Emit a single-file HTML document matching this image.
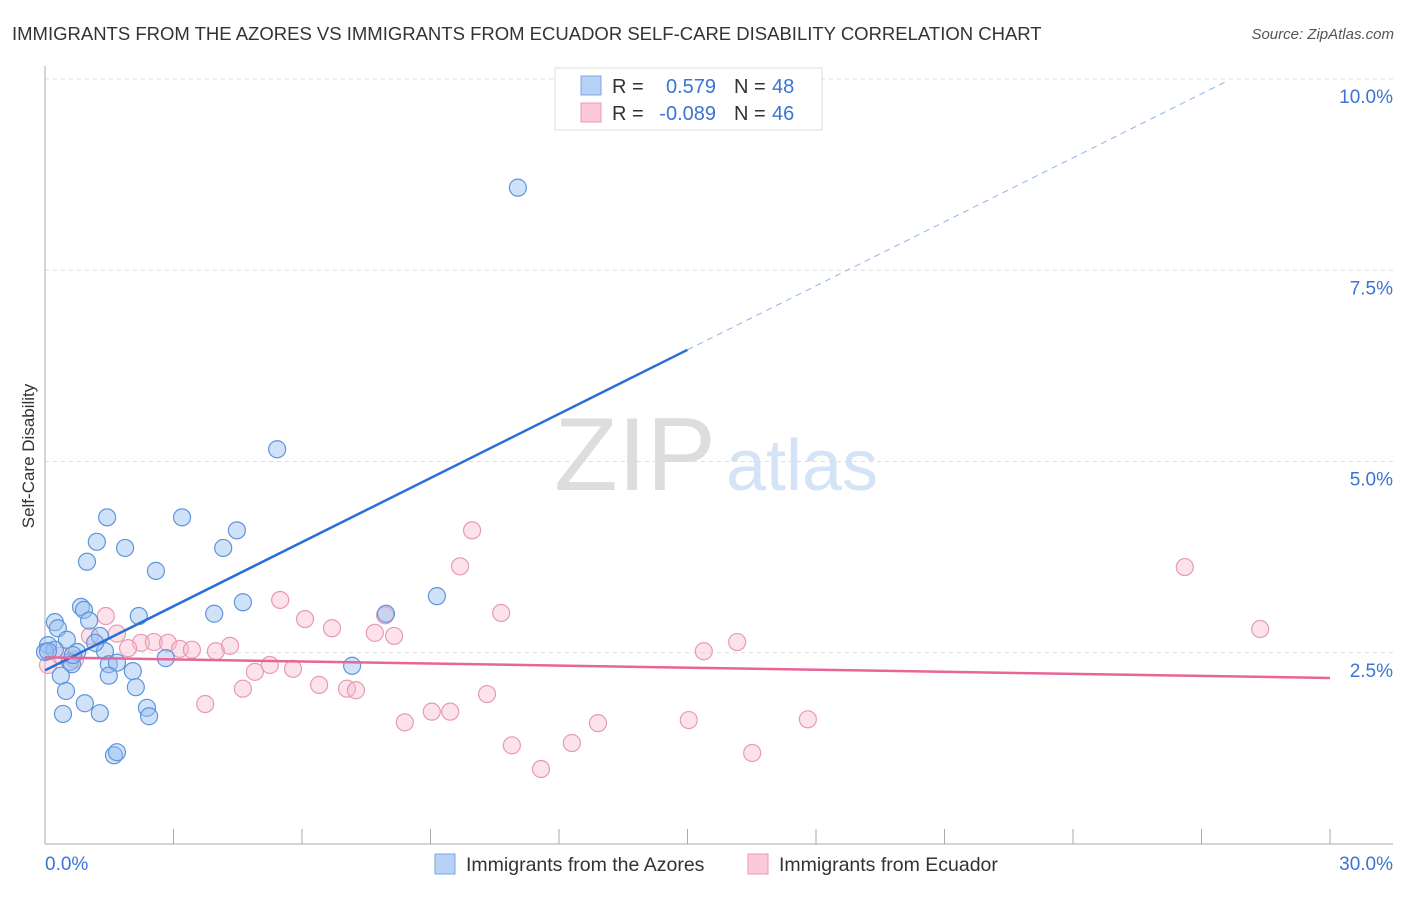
<!DOCTYPE html>
<html><head><meta charset="utf-8"><style>
body{margin:0;background:#fff;font-family:"Liberation Sans",sans-serif}
svg text{font-family:"Liberation Sans",sans-serif}
</style></head><body>
<svg id="chart" width="1406" height="892" xmlns="http://www.w3.org/2000/svg">
<text x="12" y="40" font-size="18.5" fill="#333">IMMIGRANTS FROM THE AZORES VS IMMIGRANTS FROM ECUADOR SELF-CARE DISABILITY CORRELATION CHART</text>
<text x="1394" y="39" font-size="15" fill="#555" font-style="italic" text-anchor="end">Source: ZipAtlas.com</text>
<text x="635" y="490" font-size="104" fill="#ddd" font-family="Liberation Serif" text-anchor="middle">ZIP</text>
<text x="802" y="490" font-size="72" fill="#d4e3f5" text-anchor="middle">atlas</text>
<g id="grid"></g><g id="axes"></g><g id="marks"></g>
<text transform="translate(34,456) rotate(-90)" font-size="17" fill="#333" text-anchor="middle">Self-Care Disability</text>
<g>
<rect x="555" y="68" width="267" height="62" fill="#fff" stroke="#ddd"/>
<rect x="581" y="76" width="20" height="19" fill="#b7d2f5" stroke="#7aa7e6"/>
<rect x="581" y="103" width="20" height="19" fill="#fcc9d8" stroke="#ee9ab4"/>
<text x="612" y="93" font-size="20" fill="#333">R = </text><text x="716" y="93" font-size="20" fill="#3a74d4" text-anchor="end">0.579</text>
<text x="734" y="93" font-size="20" fill="#333">N = </text><text x="772" y="93" font-size="20" fill="#3a74d4">48</text>
<text x="612" y="120" font-size="20" fill="#333">R = </text><text x="716" y="120" font-size="20" fill="#3a74d4" text-anchor="end">-0.089</text>
<text x="734" y="120" font-size="20" fill="#333">N = </text><text x="772" y="120" font-size="20" fill="#3a74d4">46</text>
</g>
<g>
<rect x="435" y="854" width="20" height="20" fill="#b7d2f5" stroke="#7aa7e6"/>
<text x="466" y="871" font-size="19.5" fill="#333">Immigrants from the Azores</text>
<rect x="748" y="854" width="20" height="20" fill="#fcc9d8" stroke="#ee9ab4"/>
<text x="779" y="871" font-size="19.5" fill="#333">Immigrants from Ecuador</text>
</g>
</svg>
<script>
const yTicks=[2.5,5.0,7.5,10.0];
const yTickLabels=["2.5%","5.0%","7.5%","10.0%"];
const xTickLabels=["0.0%","30.0%"];
const blueX=[11.04,5.42,1.45,3.20,4.48,1.21,1.87,4.16,0.98,2.59,4.62,9.15,3.95,2.19,7.96,0.84,0.91,0.23,0.30,1.03,1.28,0.51,0.07,0.23,0.0,0.75,1.40,0.58,0.63,1.49,1.68,2.05,2.82,7.17,0.37,1.49,2.12,0.49,0.93,1.28,0.42,2.38,2.43,1.61,1.68,0.07,1.17,0.65];
const blueY=[8.58,5.16,4.27,4.27,4.10,3.95,3.87,3.87,3.69,3.57,3.16,3.24,3.01,2.98,3.01,3.10,3.06,2.90,2.82,2.92,2.72,2.67,2.60,2.54,2.51,2.51,2.52,2.38,2.35,2.35,2.37,2.26,2.43,2.33,2.20,2.20,2.05,2.00,1.84,1.71,1.70,1.78,1.67,1.16,1.20,2.52,2.63,2.47];
const pinkX=[9.97,9.69,26.61,28.37,1.42,5.49,6.07,6.70,7.94,8.15,7.70,10.65,16.16,15.38,1.05,1.68,2.24,2.54,2.87,3.15,3.43,1.94,3.99,4.32,5.25,4.90,5.79,4.62,6.40,7.05,7.26,3.74,10.32,9.03,9.46,8.40,12.91,15.03,17.81,10.90,12.30,16.51,11.58,0.35,0.70,0.07];
const pinkY=[4.10,3.63,3.62,2.81,2.98,3.19,2.94,2.82,2.99,2.72,2.76,3.02,2.64,2.52,2.72,2.75,2.63,2.64,2.63,2.55,2.54,2.56,2.52,2.59,2.34,2.25,2.29,2.03,2.08,2.03,2.01,1.83,1.96,1.73,1.73,1.59,1.58,1.62,1.63,1.29,1.32,1.19,0.98,2.46,2.41,2.34];
const blueTrend=[[0,2.27],[15,6.46]];
const blueTrendDash=[[15,6.46],[27.55,9.96]];
const pinkTrend=[[0,2.44],[30,2.17]];
const NS="http://www.w3.org/2000/svg";
const sx=v=>45+v/30*1285, sy=v=>844-v*76.5;
function mk(tag,attrs,parent){const e=document.createElementNS(NS,tag);for(const k in attrs)e.setAttribute(k,attrs[k]);document.getElementById(parent).appendChild(e);return e;}
yTicks.forEach((t,i)=>{
 const g=mk('line',{x1:45,x2:1393,y1:sy(t),y2:sy(t),stroke:'#ddd','stroke-dasharray':'4,4'},'grid');
 
 
 const l=mk('text',{x:1393,y:sy(t)+24,'font-size':19,fill:'#3a74d4','text-anchor':'end'},'axes');
 l.textContent=yTickLabels[i];
 
 
});
let a=mk('line',{x1:45,x2:45,y1:66,y2:844,stroke:'#aaa'},'axes');


a=mk('line',{x1:45,x2:1393,y1:844,y2:844,stroke:'#aaa'},'axes');


for(let i=1;i<=10;i++){const t=mk('line',{x1:sx(i*3),x2:sx(i*3),y1:829,y2:844,stroke:'#aaa'},'axes');
 
 }
[[0,'start',45],[1,'end',1393]].forEach(([i,anc,x])=>{const l=mk('text',{x:x,y:870,'font-size':19,fill:'#3a74d4','text-anchor':anc},'axes');l.textContent=xTickLabels[i];
 
 });
function dots(X,Y,fill,stroke,name){X.forEach((x,i)=>{const c=mk('circle',{cx:sx(x),cy:sy(Y[i]),r:8.5,fill:fill,stroke:stroke,'stroke-width':1.2},'marks');
 
 });}
dots(pinkX,pinkY,'rgba(248,185,205,0.4)','#e99ab2','ecuador-point');
dots(blueX,blueY,'rgba(150,190,240,0.45)','#5f95dc','azores-point');
function ln(p,stroke,w,dash,name){const l=mk('line',{x1:sx(p[0][0]),y1:sy(p[0][1]),x2:sx(p[1][0]),y2:sy(p[1][1]),stroke:stroke,'stroke-width':w},'marks');if(dash)l.setAttribute('stroke-dasharray',dash);
 
 }
ln(blueTrend,'#2a6fd6',2.5,null,'azores-trend-line');
ln(blueTrendDash,'#8fb3e6',1,'6,5','azores-trend-extension');
ln(pinkTrend,'#e8659a',2.5,null,'ecuador-trend-line');
</script>
</body></html>
